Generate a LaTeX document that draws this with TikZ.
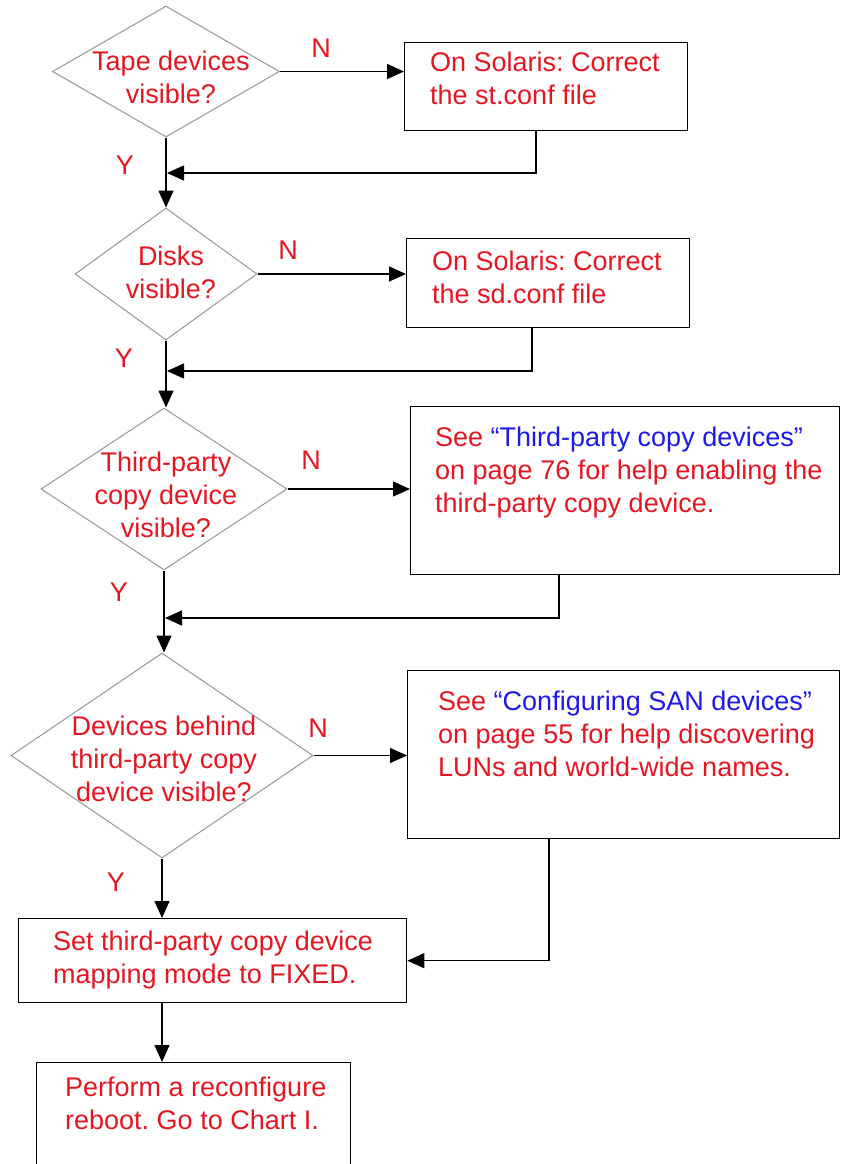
\documentclass[tikz,border=0pt]{standalone}
\usepackage{fontspec}
\setmainfont{Liberation Sans}
\usetikzlibrary{shapes.geometric,arrows.meta}
\definecolor{txtred}{RGB}{228,22,32}
\definecolor{txtblue}{RGB}{30,25,235}
\definecolor{diagray}{RGB}{150,150,150}
\frenchspacing
\begin{document}
\begin{tikzpicture}[x=1pt,y=-1pt,
  lbl/.style={font=\fontsize{27}{33}\selectfont, text=txtred, inner sep=0, align=left, anchor=north west},
  ctr/.style={font=\fontsize{27}{33}\selectfont, text=txtred, inner sep=0, align=center, anchor=north},
  yn/.style={font=\fontsize{27}{33}\selectfont, text=txtred, inner sep=0},
  dec/.style n args={2}{diamond, draw=diagray, line width=1pt, inner sep=0, minimum width=#1, minimum height=#2},
  box/.style={rectangle, draw=black, line width=1.4pt, inner sep=0, anchor=north west},
  conn/.style={draw=black, line width=1.4pt},
  arr/.style={conn, -{Triangle[length=17pt,width=15pt]}}
]
\useasboundingbox (0,0) rectangle (843,1164);
\clip (0,0) rectangle (843,1164);

% decisions
\node[dec={227}{131}] (d1) at (166,71.5) {};
\node[dec={182}{132}] (d2) at (166,274) {};
\node[dec={246}{162}] (d3) at (164,489) {};
\node[dec={302}{205}] (d4) at (162,755.5) {};

\node[ctr] (l1) at (171,50.5) {Tape devices\\visible?};
\node[ctr] (l2) at (171,245.5) {Disks\\visible?};
\node[ctr] (l3) at (166,451.5) {Third-party\\copy device\\visible?};
\node[ctr] (l4) at (164,715.5) {Devices behind\\third-party copy\\device visible?};

% boxes
\node[box, minimum width=283, minimum height=88] (b1) at (404,42) {};
\node[box, minimum width=283, minimum height=89] (b2) at (406,238) {};
\node[box, minimum width=429, minimum height=168] (b3) at (410,406) {};
\node[box, minimum width=432, minimum height=168] (b4) at (407,670) {};
\node[box, minimum width=388, minimum height=84] (b5) at (18,918) {};
\node[box, minimum width=314, minimum height=140] (b6) at (36,1062) {};

\node[lbl] (t1) at (430,51.5) {On Solaris: Correct\\the st.conf file};
\node[lbl] (t2) at (432,250.5) {On Solaris: Correct\\the sd.conf file};
\node[lbl] (t3) at (435,426.5) {See \textcolor{txtblue}{“Third-party copy devices”}\\on page 76 for help enabling the\\third-party copy device.};
\node[lbl] (t4) at (438,690.5) {See \textcolor{txtblue}{“Configuring SAN devices”}\\on page 55 for help discovering\\LUNs and world-wide names.};
\node[lbl] (t5) at (53,930.5) {Set third-party copy device\\mapping mode to FIXED.};
\node[lbl] (t6) at (65,1076.5) {Perform a reconfigure\\reboot. Go to Chart I.};

% Y / N labels
\node[yn] (n1) at (321,48) {N};
\node[yn] (y1) at (125,165) {Y};
\node[yn] (n2) at (288,250) {N};
\node[yn] (y2) at (124,358) {Y};
\node[yn] (n3) at (311,460) {N};
\node[yn] (y3) at (119,592) {Y};
\node[yn] (n4) at (318,728) {N};
\node[yn] (y4) at (116,882) {Y};

% junction coordinates
\coordinate (o1) at (536,130);
\coordinate (m1) at (167,173);
\coordinate (o2) at (532,327);
\coordinate (m2) at (167,371);
\coordinate (o3) at (559,574);
\coordinate (m3) at (165,618);
\coordinate (o4) at (549,838);

% connectors
\draw[arr] (d1.east) -- (d1.east -| b1.west);
\draw[arr] (d1.south) -- (d2.north);
\draw[arr] (o1) |- (m1);

\draw[arr] (d2.east) -- (d2.east -| b2.west);
\draw[arr] (d2.south) -- (d2.south |- d3.north);
\draw[arr] (o2) |- (m2);

\draw[arr] (d3.east) -- (d3.east -| b3.west);
\draw[arr] (d3.south) -- (d3.south |- d4.north);
\draw[arr] (o3) |- (m3);

\draw[arr] (d4.east) -- (d4.east -| b4.west);
\draw[arr] (d4.south) -- (d4.south |- b5.north);
\draw[arr] (o4) |- (b5.east);

\draw[arr] (d4.south |- b5.south) -- (d4.south |- b6.north);
\end{tikzpicture}
\end{document}
